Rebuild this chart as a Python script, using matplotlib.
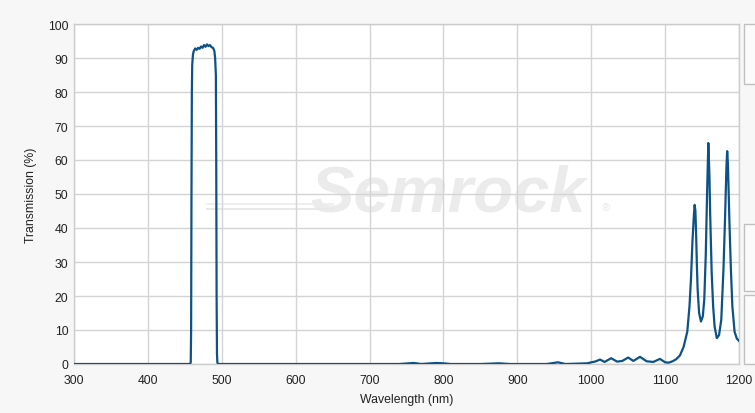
import numpy as np
import matplotlib.pyplot as plt
from matplotlib.patches import Rectangle

# transmission spectrum (nm, %)
wavelength = [300, 400, 450, 457, 458, 458.5, 459, 459.5, 460, 461, 462, 464, 466,
              468, 470, 472, 474, 476, 478, 480, 482, 484, 486, 488, 489, 490,
              491, 492, 492.5, 493, 493.5, 494, 495, 500, 600, 700, 740, 760, 770,
              790, 800, 810, 850, 875, 890, 940, 955, 965, 980, 995, 1000, 1005,
              1012, 1018, 1027, 1035, 1042, 1050, 1057, 1066, 1075, 1084, 1093,
              1100, 1105, 1110, 1115, 1120, 1125, 1130, 1133, 1135, 1137, 1139,
              1140, 1141, 1142, 1143, 1144, 1146, 1148.5, 1151, 1153, 1155, 1157,
              1158.5, 1160, 1161, 1163, 1165, 1167, 1170, 1173, 1176, 1179, 1181,
              1183, 1184, 1185, 1187, 1189, 1191, 1194, 1197, 1200]
transmission = [0, 0, 0, 0, 0.5, 10, 50, 80, 88, 91, 92, 92.8, 92.4,
                93.0, 92.7, 93.4, 93.0, 93.8, 93.3, 94.0, 93.5, 93.8, 93.2, 93.0, 92.6, 92.0,
                90, 85, 60, 20, 3, 0.5, 0, 0, 0, 0, 0, 0.3, 0,
                0.3, 0.2, 0, 0, 0.2, 0, 0, 0.5, 0, 0.1, 0.2, 0.5, 0.7,
                1.3, 0.6, 1.7, 0.7, 0.9, 1.9, 0.9, 2.1, 0.8, 0.6, 1.5,
                0.5, 0.4, 0.8, 1.4, 2.5, 5, 9.5, 17, 25, 36, 44,
                46.8, 45, 38, 29, 22, 15, 12.5, 14, 19, 32, 52,
                65, 55, 44, 27, 17, 11, 7.6, 8.5, 13, 28, 42,
                58, 62.6, 59, 42, 28, 17, 9.5, 7.5, 6.8]

xticks = [300, 400, 500, 600, 700, 800, 900, 1000, 1100, 1200]
yticks = [0, 10, 20, 30, 40, 50, 60, 70, 80, 90, 100]

plt.rcParams['font.family'] = ['Liberation Sans', 'DejaVu Sans']

fig = plt.figure(figsize=(7.55, 4.14), dpi=100, facecolor='#f7f7f7')
ax = fig.add_axes([74/755, 49/414, 665/755, 340/414])
ax.set_facecolor('white')

ax.plot(wavelength, transmission, color='#0d5286', linewidth=1.6, zorder=3)

ax.set_xlim(300, 1200)
ax.set_ylim(0, 100)
ax.set_xticks(xticks)
ax.set_yticks(yticks)
ax.tick_params(length=0, labelsize=8.8, colors='#222222')
ax.tick_params(axis='y', pad=4)
ax.tick_params(axis='x', pad=7)
ax.grid(True, color='#d4d4d4', linewidth=1)
ax.set_axisbelow(True)
for s in ax.spines.values():
    s.set_color('#cccccc')
    s.set_linewidth(1)

ax.set_xlabel('Wavelength (nm)', fontsize=8.8, color='#222222', labelpad=5)
ax.set_ylabel('Transmission (%)', fontsize=8.8, color='#222222', labelpad=8)

# faint Semrock watermark behind the grid
ax.text(0.563, 0.50, 'Semrock', transform=ax.transAxes, fontsize=47,
        fontweight='bold', fontstyle='italic', color='#ebebeb',
        ha='center', va='center', zorder=0.1)
ax.text(0.80, 0.46, '\u00ae', transform=ax.transAxes, fontsize=8,
        color='#e6e6e6', ha='center', va='center', zorder=0.1)
ax.plot([0.2, 0.39], [0.455, 0.455], transform=ax.transAxes, color='#e8e8e8',
        linewidth=1.5, zorder=0.1)
ax.plot([0.2, 0.39], [0.47, 0.47], transform=ax.transAxes, color='#ececec',
        linewidth=1.2, zorder=0.1)

# cut-off side panels on the right
for y0, y1 in [(25, 85), (225, 292), (296, 365)]:
    fig.patches.append(Rectangle((744/755, 1 - y1/414), 20/755, (y1 - y0)/414,
                                 transform=fig.transFigure, facecolor='#fbfbfb',
                                 edgecolor='#c0c0c0', linewidth=1))

fig.savefig('out.png', dpi=100, facecolor=fig.get_facecolor())
